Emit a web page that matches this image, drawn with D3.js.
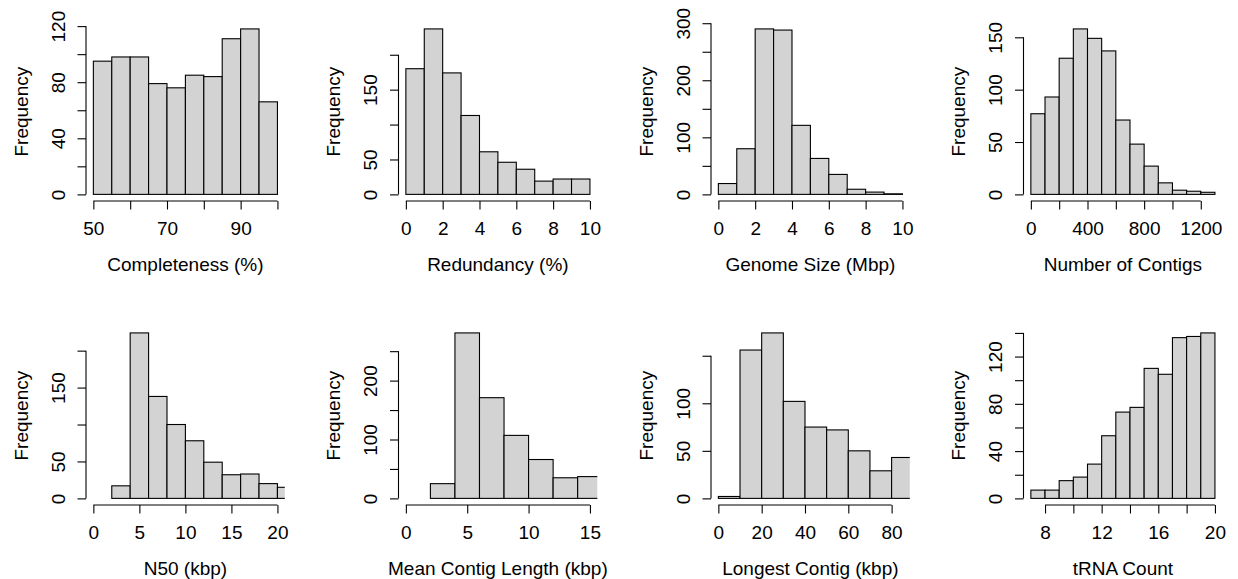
<!DOCTYPE html>
<html>
<head>
<meta charset="utf-8">
<script src="https://cdn.jsdelivr.net/npm/d3@7"></script>
<style>
  body { margin: 0; background: #fff; }
  svg { display: block; }
</style>
</head>
<body>
<div id="svg-container"></div>
<script>
var titles = ["Completeness (%)", "Redundancy (%)", "Genome Size (Mbp)", "Number of Contigs",
              "N50 (kbp)", "Mean Contig Length (kbp)", "Longest Contig (kbp)", "tRNA Count"];

var completenessBreaks = [50, 55, 60, 65, 70, 75, 80, 85, 90, 95, 100];
var completenessCounts = [95, 98, 98, 79, 76, 85, 84, 111, 118, 66];

var redundancyBreaks = [0, 1, 2, 3, 4, 5, 6, 7, 8, 9, 10];
var redundancyCounts = [180, 237, 174, 113, 61, 46, 36, 19, 22, 22];

var genomeBreaks = [0, 1, 2, 3, 4, 5, 6, 7, 8, 9, 10];
var genomeCounts = [19, 80, 290, 288, 121, 63, 35, 9, 4, 1];

var contigBreaks = [0, 100, 200, 300, 400, 500, 600, 700, 800, 900, 1000, 1100, 1200, 1300];
var contigCounts = [77, 93, 130, 158, 149, 137, 71, 48, 27, 11, 4, 3, 2];

var n50Breaks = [2, 4, 6, 8, 10, 12, 14, 16, 18, 20, 22];
var n50Counts = [17, 224, 138, 100, 78, 49, 32, 33, 20, 15];

var meanLenBreaks = [2, 4, 6, 8, 10, 12, 14, 16];
var meanLenCounts = [25, 281, 171, 107, 66, 35, 37];

var longestBreaks = [0, 10, 20, 30, 40, 50, 60, 70, 80, 90];
var longestCounts = [2, 156, 174, 102, 75, 72, 50, 29, 43];

var trnaBreaks = [7, 8, 9, 10, 11, 12, 13, 14, 15, 16, 17, 18, 19, 20];
var trnaCounts = [7, 7, 15, 18, 29, 53, 73, 77, 110, 105, 136, 137, 140];

var xlims = [[50, 100], [0, 10], [0, 10], [0, 1300], [0, 20], [0, 15], [0, 85], [7, 20]];

var xTicks = [[50, 60, 70, 80, 90, 100], [0, 2, 4, 6, 8, 10], [0, 2, 4, 6, 8, 10],
              [0, 200, 400, 600, 800, 1000, 1200], [0, 5, 10, 15, 20], [0, 5, 10, 15],
              [0, 20, 40, 60, 80], [8, 10, 12, 14, 16, 18, 20]];
var xLabels = [[50, 70, 90], [0, 2, 4, 6, 8, 10], [0, 2, 4, 6, 8, 10], [0, 400, 800, 1200],
               [0, 5, 10, 15, 20], [0, 5, 10, 15], [0, 20, 40, 60, 80], [8, 12, 16, 20]];

var yTicks = [[0, 20, 40, 60, 80, 100, 120], [0, 50, 100, 150, 200], [0, 50, 100, 150, 200, 250, 300],
              [0, 50, 100, 150], [0, 50, 100, 150, 200], [0, 50, 100, 150, 200, 250],
              [0, 50, 100, 150], [0, 20, 40, 60, 80, 100, 120, 140]];
var yLabels = [[0, 40, 80, 120], [0, 50, 150], [0, 100, 200, 300], [0, 50, 100, 150],
               [0, 50, 150], [0, 100, 200], [0, 50, 100], [0, 40, 80, 120]];

var allBreaks = [completenessBreaks, redundancyBreaks, genomeBreaks, contigBreaks,
                 n50Breaks, meanLenBreaks, longestBreaks, trnaBreaks];
var allCounts = [completenessCounts, redundancyCounts, genomeCounts, contigCounts,
                 n50Counts, meanLenCounts, longestCounts, trnaCounts];

var width = 1238,
    height = 579;

var svg = d3.select("#svg-container")
  .append("svg")
    .attr("width", width)
    .attr("height", height)
    .attr("font-family", "'Liberation Sans', Arial, Helvetica, sans-serif")
    .attr("font-size", 19);

// plot regions, R style mfrow 2x4
var plotW = 198.8, plotH = 178.7;
var rowTop = [22.3, 326.3];

titles.forEach(function(title, i) {
  var col = i % 4, row = Math.floor(i / 4);
  var left = 86 + col * 312.5,
      top = rowTop[row],
      bottom = top + plotH;

  var xl = xlims[i], xr = xl[1] - xl[0];
  var ymax = d3.max(allCounts[i]);

  // 4% padding like R's usr
  var x = d3.scaleLinear()
      .domain([xl[0] - 0.04 * xr, xl[1] + 0.04 * xr])
      .range([left, left + plotW]);
  var y = d3.scaleLinear()
      .domain([-0.04 * ymax, 1.04 * ymax])
      .range([bottom, top]);

  var g = svg.append("g").attr("class", "panel");

  svg.append("clipPath").attr("id", "clip" + i)
    .append("rect")
      .attr("x", left).attr("y", top)
      .attr("width", plotW).attr("height", plotH);

  var breaks = allBreaks[i];
  var bins = allCounts[i].map(function(c, k) {
    return {x0: breaks[k], x1: breaks[k + 1], count: c};
  });

  g.append("g")
      .attr("clip-path", "url(#clip" + i + ")")
    .selectAll("rect")
    .data(bins)
    .enter().append("rect")
      .attr("x", function(d) { return x(d.x0); })
      .attr("y", function(d) { return y(d.count); })
      .attr("width", function(d) { return x(d.x1) - x(d.x0); })
      .attr("height", function(d) { return y(0) - y(d.count); })
      .style("fill", "#d3d3d3")
      .style("stroke", "#000")
      .style("stroke-width", 1.1);

  // x axis
  var xt = xTicks[i], xlab = xLabels[i];
  var xAxis = g.append("g")
      .attr("transform", "translate(0," + bottom + ")")
      .call(d3.axisBottom(x).tickValues(xt).tickSize(8.5).tickSizeOuter(0)
        .tickFormat(function(v) { return xlab.indexOf(v) >= 0 ? v : ""; }));
  xAxis.select(".domain").remove();
  xAxis.append("line")
      .attr("x1", x(xt[0])).attr("x2", x(xt[xt.length - 1]))
      .attr("stroke", "#000");
  xAxis.selectAll("line").attr("stroke-width", 1.1);
  xAxis.selectAll("text")
      .attr("y", 34).attr("dy", null)
      .attr("fill", "#000")
      .attr("font-size", 19)
      .attr("font-family", null);

  // y axis
  var yt = yTicks[i], ylab = yLabels[i];
  var yAxis = g.append("g")
      .attr("transform", "translate(" + left + ",0)")
      .call(d3.axisLeft(y).tickValues(yt).tickSize(8.5).tickSizeOuter(0)
        .tickFormat(function(v) { return ylab.indexOf(v) >= 0 ? v : ""; }));
  yAxis.select(".domain").remove();
  yAxis.append("line")
      .attr("y1", y(yt[0])).attr("y2", y(yt[yt.length - 1]))
      .attr("stroke", "#000");
  yAxis.selectAll("line").attr("stroke-width", 1.1);
  yAxis.selectAll("text")
      .attr("x", null).attr("dy", null)
      .attr("transform", "translate(-21.5,0) rotate(-90)")
      .attr("text-anchor", "middle")
      .attr("fill", "#000")
      .attr("font-size", 19)
      .attr("font-family", null);

  // axis titles
  g.append("text")
      .attr("x", left + plotW / 2)
      .attr("y", bottom + 70)
      .attr("text-anchor", "middle")
      .text(title);

  g.append("text")
      .attr("transform", "translate(" + (left - 58.5) + "," + (top + plotH / 2) + ") rotate(-90)")
      .attr("text-anchor", "middle")
      .text("Frequency");
});
</script>
</body>
</html>
